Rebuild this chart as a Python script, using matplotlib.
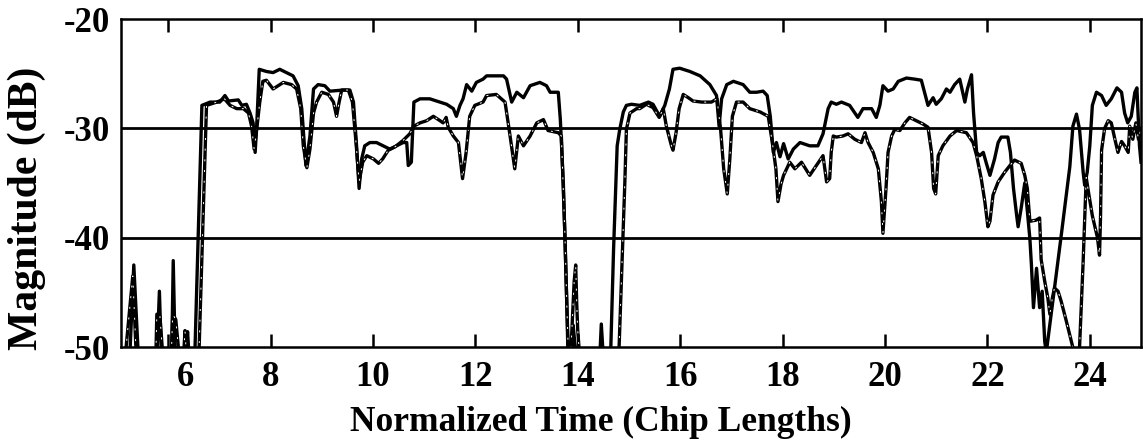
#!/usr/bin/env python

# plot.py
#
# Magnitude (dB) of two received signals versus normalized time
#------------------------------------------------------------------------------

import numpy as np
import matplotlib
matplotlib.use('Agg')
import matplotlib.pyplot as plt
import matplotlib.transforms as mtransforms

#-------------
# Data
#-------------

# Curve 1 (upper trace)
a_x = [5.08, 5.25, 5.33, 5.42, 5.78, 5.83, 5.87, 6.07, 6.10, 6.14, 6.35, 6.38, 6.41,
       6.52, 6.66, 6.82, 7.01, 7.11, 7.18, 7.37, 7.44, 7.53, 7.60, 7.66, 7.70, 7.73,
       7.78, 7.92, 8.05, 8.18, 8.31, 8.44, 8.54, 8.61, 8.69, 8.77, 8.84, 8.93, 9.06,
       9.16, 9.42, 9.55, 9.62, 9.68, 9.73, 9.78, 9.84, 9.94, 10.07, 10.20, 10.33,
       10.46, 10.59, 10.66, 10.69, 10.75, 10.80, 10.92, 11.11, 11.31, 11.44, 11.57,
       11.63, 11.70, 11.76, 11.83, 11.93, 12.02, 12.15, 12.22, 12.55, 12.61, 12.71,
       12.81, 12.94, 13.07, 13.26, 13.39, 13.46, 13.62, 13.66, 13.72, 13.79, 13.81,
       13.88, 13.91, 13.94, 13.98, 14.43, 14.46, 14.50, 14.64, 14.70, 14.77, 14.82,
       14.89, 14.95, 15.05, 15.21, 15.38, 15.47, 15.60, 15.70, 15.79, 15.86, 15.99,
       16.19, 16.39, 16.58, 16.71, 16.76, 16.81, 16.91, 17.04, 17.23, 17.36, 17.49,
       17.62, 17.70, 17.76, 17.82, 17.88, 17.95, 18.02, 18.11, 18.21, 18.34, 18.53,
       18.69, 18.79, 18.89, 18.95, 19.05, 19.15, 19.31, 19.47, 19.57, 19.74, 19.83,
       19.90, 19.96, 20.06, 20.16, 20.26, 20.42, 20.58, 20.71, 20.84, 20.94, 21.00,
       21.10, 21.20, 21.27, 21.36, 21.46, 21.56, 21.61, 21.69, 21.73, 21.79, 21.85,
       21.92, 21.98, 22.05, 22.14, 22.21, 22.27, 22.40, 22.45, 22.51, 22.57, 22.60,
       22.66, 22.73, 22.83, 22.86, 22.90, 22.96, 23.02, 23.07, 23.12, 23.15, 23.30,
       23.45, 23.61, 23.67, 23.74, 23.80, 23.87, 23.90, 23.95, 24.00, 24.05, 24.13,
       24.23, 24.32, 24.42, 24.53, 24.62, 24.68, 24.74, 24.81, 24.88, 24.92, 24.97,
       25.00]
a_y = [-51, -51, -42.5, -51, -51, -44.9, -51, -51, -42.1, -51, -51, -48.6, -51,
       -51, -27.9, -27.6, -27.6, -27.0, -27.5, -27.4, -27.9, -27.8, -28.6, -29.5, -32.2, -29.8,
       -24.6, -24.8, -24.9, -24.6, -24.9, -25.2, -26.1, -28.2, -33.4, -30.7, -26.4, -26.0, -26.1,
       -26.6, -26.5, -26.5, -27.6, -31.6, -35.5, -32.8, -31.6, -31.3, -31.3, -31.6, -31.9,
       -31.6, -31.3, -31.3, -33.4, -33.1, -27.6, -27.3, -27.3, -27.6, -27.8, -28.2,
       -28.9, -27.9, -27.3, -26.0, -26.6, -25.8, -25.5, -25.2, -25.2, -25.5, -27.6,
       -26.7, -27.2, -26.1, -25.8, -26.1, -26.7, -26.7, -29.2, -35.2, -46.7, -51,
       -51, -48.0, -49.5, -51, -51, -47.9, -51, -51, -41.0, -31.6, -30.1,
       -28.5, -27.9, -27.8, -27.9, -27.6, -27.8, -28.9, -27.9, -26.4, -24.6, -24.5,
       -24.8, -25.2, -26.0, -27.0, -29.8, -27.3, -26.0, -25.7, -26.0, -26.7, -26.7,
       -26.6, -27.0, -28.9, -32.2, -31.3, -32.6, -31.4, -32.8, -31.9, -31.3, -31.6,
       -31.6, -30.5, -28.2, -27.6, -27.8, -27.6, -27.9, -29.0, -28.2, -28.2, -29.0,
       -27.9, -26.1, -26.6, -26.4, -25.7, -25.4, -25.5, -25.6, -27.9, -27.2, -27.8,
       -27.3, -26.4, -26.7, -26.0, -25.5, -27.6, -26.4, -25.1, -28.6, -32.2, -32.5,
       -32.2, -33.2, -34.3, -32.8, -31.3, -30.8, -30.8, -32.2, -35.5, -37.9, -39.0,
       -37.3, -35.0, -40.1, -42.5, -46.4, -42.8, -46.4, -44.9, -49.5, -50.5, -45.0,
       -39.5, -33.5, -29.8, -28.7, -30.1, -34.0, -35.2, -34.0, -31.6, -27.9, -26.7,
       -27.0, -27.9, -27.3, -26.3, -26.7, -28.6, -29.5, -28.9, -26.7, -26.3, -31.6,
       -33.1]

# Curve 2 (lower trace)
b_x = [5.08, 5.16, 5.31, 5.38, 5.76, 5.78, 5.84, 5.90, 6.06, 6.09, 6.15, 6.22, 6.30,
       6.33, 6.36, 6.60, 6.75, 6.95, 7.10, 7.21, 7.34, 7.47, 7.57, 7.63, 7.68, 7.72,
       7.79, 7.85, 7.92, 8.05, 8.15, 8.25, 8.41, 8.51, 8.59, 8.64, 8.71, 8.77, 8.84,
       8.90, 9.00, 9.13, 9.23, 9.29, 9.34, 9.39, 9.52, 9.60, 9.67, 9.73, 9.80, 9.88,
       10.01, 10.11, 10.19, 10.30, 10.43, 10.59, 10.72, 10.80, 10.92, 11.05, 11.18,
       11.31, 11.37, 11.43, 11.47, 11.57, 11.67, 11.75, 11.82, 11.89, 11.99, 12.15,
       12.22, 12.41, 12.58, 12.66, 12.77, 12.84, 12.94, 13.07, 13.20, 13.33, 13.42,
       13.62, 13.68, 13.75, 13.79, 13.82, 13.86, 13.89, 13.93, 13.96, 13.98, 14.00,
       14.04, 14.80, 14.92, 14.95, 15.02, 15.15, 15.21, 15.34, 15.47, 15.59, 15.67,
       15.73, 15.83, 15.86, 15.92, 15.98, 16.06, 16.16, 16.25, 16.42, 16.61, 16.72,
       16.79, 16.85, 16.92, 16.97, 17.02, 17.10, 17.23, 17.36, 17.56, 17.72, 17.80,
       17.87, 17.91, 17.97, 18.02, 18.14, 18.24, 18.37, 18.53, 18.66, 18.79, 18.86,
       18.92, 18.95, 18.99, 19.05, 19.18, 19.28, 19.41, 19.54, 19.61, 19.67, 19.77,
       19.87, 19.93, 19.96, 20.02, 20.06, 20.13, 20.19, 20.29, 20.39, 20.48, 20.61,
       20.74, 20.84, 20.91, 20.95, 20.99, 21.04, 21.13, 21.27, 21.40, 21.59, 21.72,
       21.79, 21.88, 21.95, 22.01, 22.05, 22.11, 22.21, 22.34, 22.44, 22.53, 22.66,
       22.73, 22.78, 22.83, 22.95, 23.02, 23.05, 23.12, 23.18, 23.22, 23.27, 23.31,
       23.38, 23.44, 23.54, 23.64, 23.72, 23.80, 23.87, 23.93, 23.98, 24.05, 24.15,
       24.19, 24.21, 24.23, 24.29, 24.36, 24.42, 24.49, 24.55, 24.62, 24.68, 24.75,
       24.78, 24.84, 24.90, 24.95, 25.00]
b_y = [-51, -51, -43.5, -51, -51, -47.0, -47.2, -51, -51, -47.0, -47.5, -51, -51,
       -48.5, -51, -51, -27.9, -27.6, -27.3, -27.9, -28.2, -28.2, -28.6, -29.8, -31.9, -30.5,
       -27.6, -25.7, -25.6, -26.4, -26.1, -25.8, -26.0, -26.4, -28.2, -31.6, -33.6, -31.9, -28.6,
       -27.6, -26.7, -26.9, -27.6, -28.9, -27.6, -26.5, -26.5, -27.6, -31.3, -34.9, -33.1, -32.5,
       -32.8, -33.2, -32.8, -32.0, -31.7, -31.1, -30.5, -29.8, -29.5, -29.3, -28.9,
       -29.3, -29.5, -29.0, -29.9, -30.7, -31.3, -34.6, -32.2, -28.9, -27.9, -27.6,
       -27.0, -26.9, -27.6, -30.1, -33.7, -30.7, -31.6, -30.7, -29.5, -29.2, -30.2,
       -30.4, -30.7, -39.8, -46.7, -51, -51, -48.0, -44.0, -42.5, -46.0, -48.5,
       -51, -51, -34.9, -30.1, -28.6, -28.2, -28.2, -27.8, -28.1, -29.0, -28.2,
       -29.8, -31.6, -32.0, -30.4, -28.2, -26.9, -27.2, -27.5, -27.6, -27.6, -27.3,
       -30.1, -33.7, -36.0, -32.8, -28.9, -27.6, -27.6, -28.2, -28.5, -28.9, -31.3,
       -33.7, -36.7, -35.1, -34.3, -33.1, -33.7, -33.1, -34.3, -33.4, -32.5, -34.9,
       -34.6, -32.2, -30.7, -30.8, -30.7, -30.5, -31.0, -31.3, -30.4, -31.3, -32.2,
       -33.7, -36.7, -39.6, -35.5, -32.2, -30.7, -30.1, -30.2, -29.5, -29.0, -29.3,
       -29.6, -29.9, -32.2, -35.5, -36.0, -32.5, -31.6, -30.7, -30.2, -30.4, -31.3,
       -32.5, -34.6, -36.7, -39.0, -38.5, -36.1, -34.9, -34.0, -33.4, -32.9, -33.2,
       -34.3, -35.5, -38.5, -38.4, -38.2, -42.0, -44.0, -45.5, -47.0, -45.5, -44.6,
       -44.9, -45.8, -47.6, -49.5, -51, -50, -42.2, -34.5, -36.0, -38.0, -40.0,
       -41.6, -38.0, -32.0, -30.0, -29.3, -29.5, -31.0, -32.2, -31.2, -31.6, -32.2,
       -29.8, -31.0, -29.5, -31.0, -30.0]

# Axes
xticks = [6, 8, 10, 12, 14, 16, 18, 20, 22, 24]
yticks = [-50, -40, -30, -20]
ref_levels = [-30, -40]
xlabel = 'Normalized Time (Chip Lengths)'
ylabel = 'Magnitude (dB)'

#------------------------------------------------------------------------------------

plt.rcParams['font.family'] = ['Liberation Serif', 'DejaVu Serif']
plt.rcParams['font.weight'] = 'bold'

fig = plt.figure(figsize=(11.43, 4.44), dpi=100)
ax = fig.add_axes([121/1143, 1-347/444, 1020/1143, 328/444])

ax.plot(a_x, a_y, color='k', lw=2.4, solid_joinstyle='round')
ax.plot(b_x, b_y, color='k', lw=2.4, solid_joinstyle='round')
# scanned look of the second trace (small white breaks)
ax.plot(b_x, b_y, color='w', lw=0.7, ls=(0, (2, 9)))

for lev in ref_levels:
    ax.axhline(lev, color='k', lw=2.0)

ax.set_xlim(5.08, 25.0)
ax.set_ylim(-50, -20)
ax.set_xticks(xticks)
ax.set_yticks(yticks)
ax.set_xticklabels([str(t) for t in xticks], fontsize=25, fontweight='bold')
ax.set_yticklabels([str(t) for t in yticks], fontsize=25, fontweight='bold')

ax.tick_params(axis='x', direction='in', length=9.5, width=1.8, top=True, pad=10)
ax.tick_params(axis='y', length=0, pad=8)
for sp in ax.spines.values():
    sp.set_linewidth(1.8)

# first tick label sits a bit to the right in the original
lab = ax.xaxis.get_major_ticks()[0].label1
lab.set_transform(lab.get_transform() +
                  mtransforms.ScaledTranslation(0.17, 0, fig.dpi_scale_trans))

ax.set_xlabel(xlabel, fontsize=25.5, fontweight='bold', va='center')
ax.xaxis.set_label_coords(0.470, -0.229)
ax.set_ylabel(ylabel, fontsize=30, fontweight='bold', va='center')
ax.yaxis.set_label_coords(-0.092, 0.424)

plt.savefig('out.png', dpi=100, facecolor='w')
plt.close()
